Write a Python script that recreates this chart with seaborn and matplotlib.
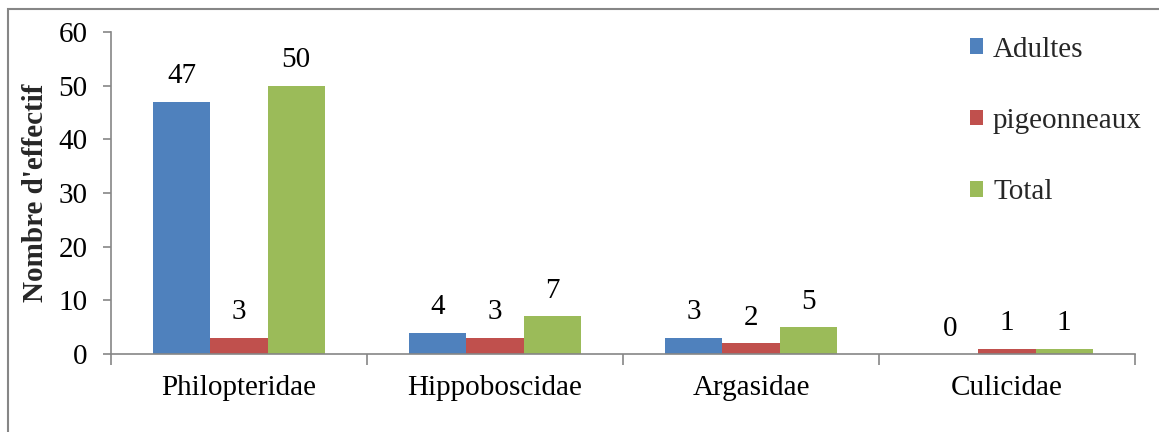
import matplotlib
matplotlib.use("Agg")
import matplotlib.pyplot as plt
import seaborn as sns
import pandas as pd
import numpy as np
from matplotlib.patches import Rectangle

families = ["Philopteridae", "Hippoboscidae", "Argasidae", "Culicidae"]
adultes = [47, 4, 3, 0]
pigeonneaux = [3, 3, 2, 1]
total = [50, 7, 5, 1]
series_names = ["Adultes", "pigeonneaux", "Total"]
colors = ["#4F81BD", "#C0504D", "#9BBB59"]

rows = []
for name, vals in zip(series_names, [adultes, pigeonneaux, total]):
    for fam, v in zip(families, vals):
        rows.append({"Famille": fam, "Série": name, "Effectif": v})
df = pd.DataFrame(rows)

sns.set_theme(style="white")
plt.rcParams["font.family"] = ["Liberation Serif", "DejaVu Serif"]

FS = 21
fig = plt.figure(figsize=(11.59, 4.32), dpi=100)
ax = fig.add_axes([111/1159, 1-354/432, (1135-111)/1159, (354-32)/432])

sns.barplot(data=df, x="Famille", y="Effectif", hue="Série", order=families,
            hue_order=series_names, palette=colors, width=0.67, ax=ax,
            saturation=1, errorbar=None, linewidth=0)

for cont in ax.containers:
    ax.bar_label(cont, fmt="%d", padding=9, fontsize=FS, color="black")

ax.set_xlim(-0.5, 3.5)
ax.set_ylim(0, 60)
ax.set_yticks(range(0, 61, 10))
ax.set_xlabel("")
ax.set_ylabel("Nombre d'effectif", fontsize=FS, fontweight="bold", labelpad=7)

gray = "#868686"
for s in ["top", "right"]:
    ax.spines[s].set_visible(False)
for s in ["left", "bottom"]:
    ax.spines[s].set_color(gray)
    ax.spines[s].set_linewidth(1.2)

ax.tick_params(axis="y", which="major", length=6, width=1.2, color=gray,
               left=True, labelsize=FS, pad=11)
ax.tick_params(axis="x", which="major", length=0, labelsize=FS, pad=15)
ax.set_xticks(np.arange(-0.5, 4.0, 1.0), minor=True)
ax.tick_params(axis="x", which="minor", length=8, width=1.2, color=gray,
               bottom=True)
for lab in ax.get_xticklabels() + ax.get_yticklabels():
    lab.set_color("black")

leg = ax.legend(loc="upper left", bbox_to_anchor=(958/1159, 1-25/432),
                bbox_transform=fig.transFigure, frameon=False, fontsize=FS,
                handlelength=0.45, handleheight=0.45, handletextpad=0.35,
                labelspacing=1.55, borderaxespad=0)

fig.patches.append(Rectangle((8/1159, -0.1), 1.2, 1 - 9/432 + 0.1,
                             transform=fig.transFigure, fill=False,
                             edgecolor=gray, linewidth=1.5))

fig.savefig("out.png", dpi=100)
